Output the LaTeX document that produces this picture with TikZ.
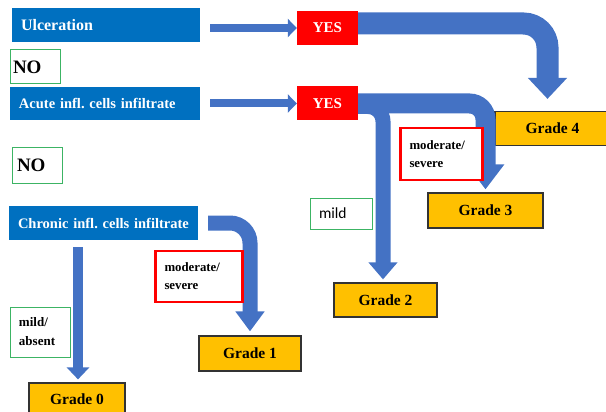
\documentclass[tikz,border=0pt]{standalone}
\usepackage{fontspec}
\setmainfont{Liberation Serif}
\newfontfamily\calibri{Carlito}
\usetikzlibrary{arrows.meta, calc}
\definecolor{boxblue}{RGB}{0,112,192}
\definecolor{arrowblue}{RGB}{68,114,196}
\definecolor{gradeyellow}{RGB}{255,192,0}
\definecolor{nogreen}{RGB}{60,180,100}
\frenchspacing

\begin{document}
\begin{tikzpicture}[x=1pt, y=-1pt,
    cond/.style={fill=boxblue, text=white, font=\fontsize{14.5pt}{18pt}\selectfont\bfseries, minimum height=34pt, inner xsep=9pt, inner ysep=0pt, align=left},
    yesbox/.style={fill=red, text=white, font=\fontsize{15pt}{18pt}\selectfont\bfseries, minimum width=61pt, minimum height=34pt},
    grade/.style={fill=gradeyellow, draw=black!80, line width=1.2pt, font=\fontsize{15.5pt}{18pt}\selectfont\bfseries, minimum height=34pt},
    nobox/.style={fill=white, draw=nogreen, line width=1pt, font=\fontsize{19pt}{22pt}\selectfont\bfseries, minimum height=34pt, inner ysep=0pt, align=left},
    sevbox/.style={fill=white, draw=red, line width=2.5pt, font=\fontsize{12.8pt}{18pt}\selectfont\bfseries, inner xsep=9pt, align=left},
    mildbox/.style={fill=white, draw=nogreen, line width=1pt, inner xsep=9pt, align=left},
    slim/.style={draw=arrowblue, line width=#1},
    bend/.style={draw=arrowblue, line width=#1}]
    \useasboundingbox ({0},{0}) rectangle ({606},{412});

    % conditions and answers
    \node[cond, text width=170pt, font=\fontsize{16pt}{18pt}\selectfont\bfseries] (ulc) at ({106},{25}) {Ulceration};
    \node[cond, text width=172pt, minimum height=33pt] (acute) at ({105},{103.5}) {\mbox{Acute infl. cells infiltrate}};
    \node[cond, text width=171pt] (chronic) at ({103.5},{223}) {\mbox{Chronic infl. cells infiltrate}};
    \node[yesbox] (yes1) at ({327.5},{28}) {YES};
    \node[yesbox] (yes2) at ({327.5},{103.5}) {YES};

    % grades
    \node[grade, minimum width=115pt] (g4) at ({552.5},{128.5}) {Grade 4};
    \node[grade, minimum width=115pt, minimum height=35pt] (g3) at ({485.5},{210.5}) {Grade 3};
    \node[grade, minimum width=103pt] (g2) at ({385.5},{300}) {Grade 2};
    \node[grade, minimum width=102pt, minimum height=35pt] (g1) at ({250},{353.5}) {Grade 1};
    \node[grade, minimum width=96pt, minimum height=32pt] (g0) at ({77},{399}) {Grade 0};

    % arrows
    \draw[slim=8pt, -{Triangle[length=9pt, width=18pt]}] ([xshift=10pt, yshift=-3pt]ulc.east) -- (yes1.west);
    \draw[slim=8pt, -{Triangle[length=9pt, width=18pt]}] ([xshift=10pt]acute.east) -- (yes2.west);
    \draw[bend=22pt, rounded corners=24pt, -{Triangle[length=21pt, width=38pt]}] ([yshift=4.5pt]yes1.east) -| ([xshift=-5pt, yshift=12pt]g4.north);
    \draw[bend=20pt, rounded corners=16pt, -{Triangle[length=25pt, width=36pt]}] (yes2.east) -| ([yshift=3pt]g3.north);
    \draw[bend=15pt, rounded corners=15pt, -{Triangle[length=17pt, width=28pt]}] ([yshift=-3pt]yes2.east) -| ([xshift=-2.5pt, yshift=3pt]g2.north);
    \draw[bend=15pt, rounded corners=20pt, -{Triangle[length=20pt, width=28pt]}] ([xshift=10pt]chronic.east) -| ([yshift=4pt]g1.north);
    \draw[slim=10pt, -{Triangle[length=12pt, width=22pt]}] ([xshift=-25.5pt, yshift=-7pt]chronic.south) -- ([xshift=1pt, yshift=3pt]g0.north);

    % answer labels
    \node[nobox, text width=44pt, inner xsep=3pt, minimum width=50pt] (no1) at ({35},{67}) {NO};
    \node[nobox, text width=40pt, inner xsep=5pt, minimum width=50pt, minimum height=35pt] (no2) at ({37},{165.5}) {NO};
    \node[sevbox, text width=64pt, minimum height=52pt] (sev1) at ({441.5},{154}) {moderate/\\severe};
    \node[sevbox, text width=69pt, minimum height=51pt] (sev2) at ({199},{276.5}) {moderate/\\severe};
    \node[mildbox, text width=44pt, minimum height=31pt, font=\calibri\fontsize{15.5pt}{18pt}\selectfont] (mild) at ({341},{213.5}) {mild};
    \node[mildbox, text width=42pt, minimum height=50pt, font=\fontsize{13pt}{19pt}\selectfont\bfseries] (mildabs) at ({40},{332}) {mild/\\absent};
\end{tikzpicture}
\end{document}
